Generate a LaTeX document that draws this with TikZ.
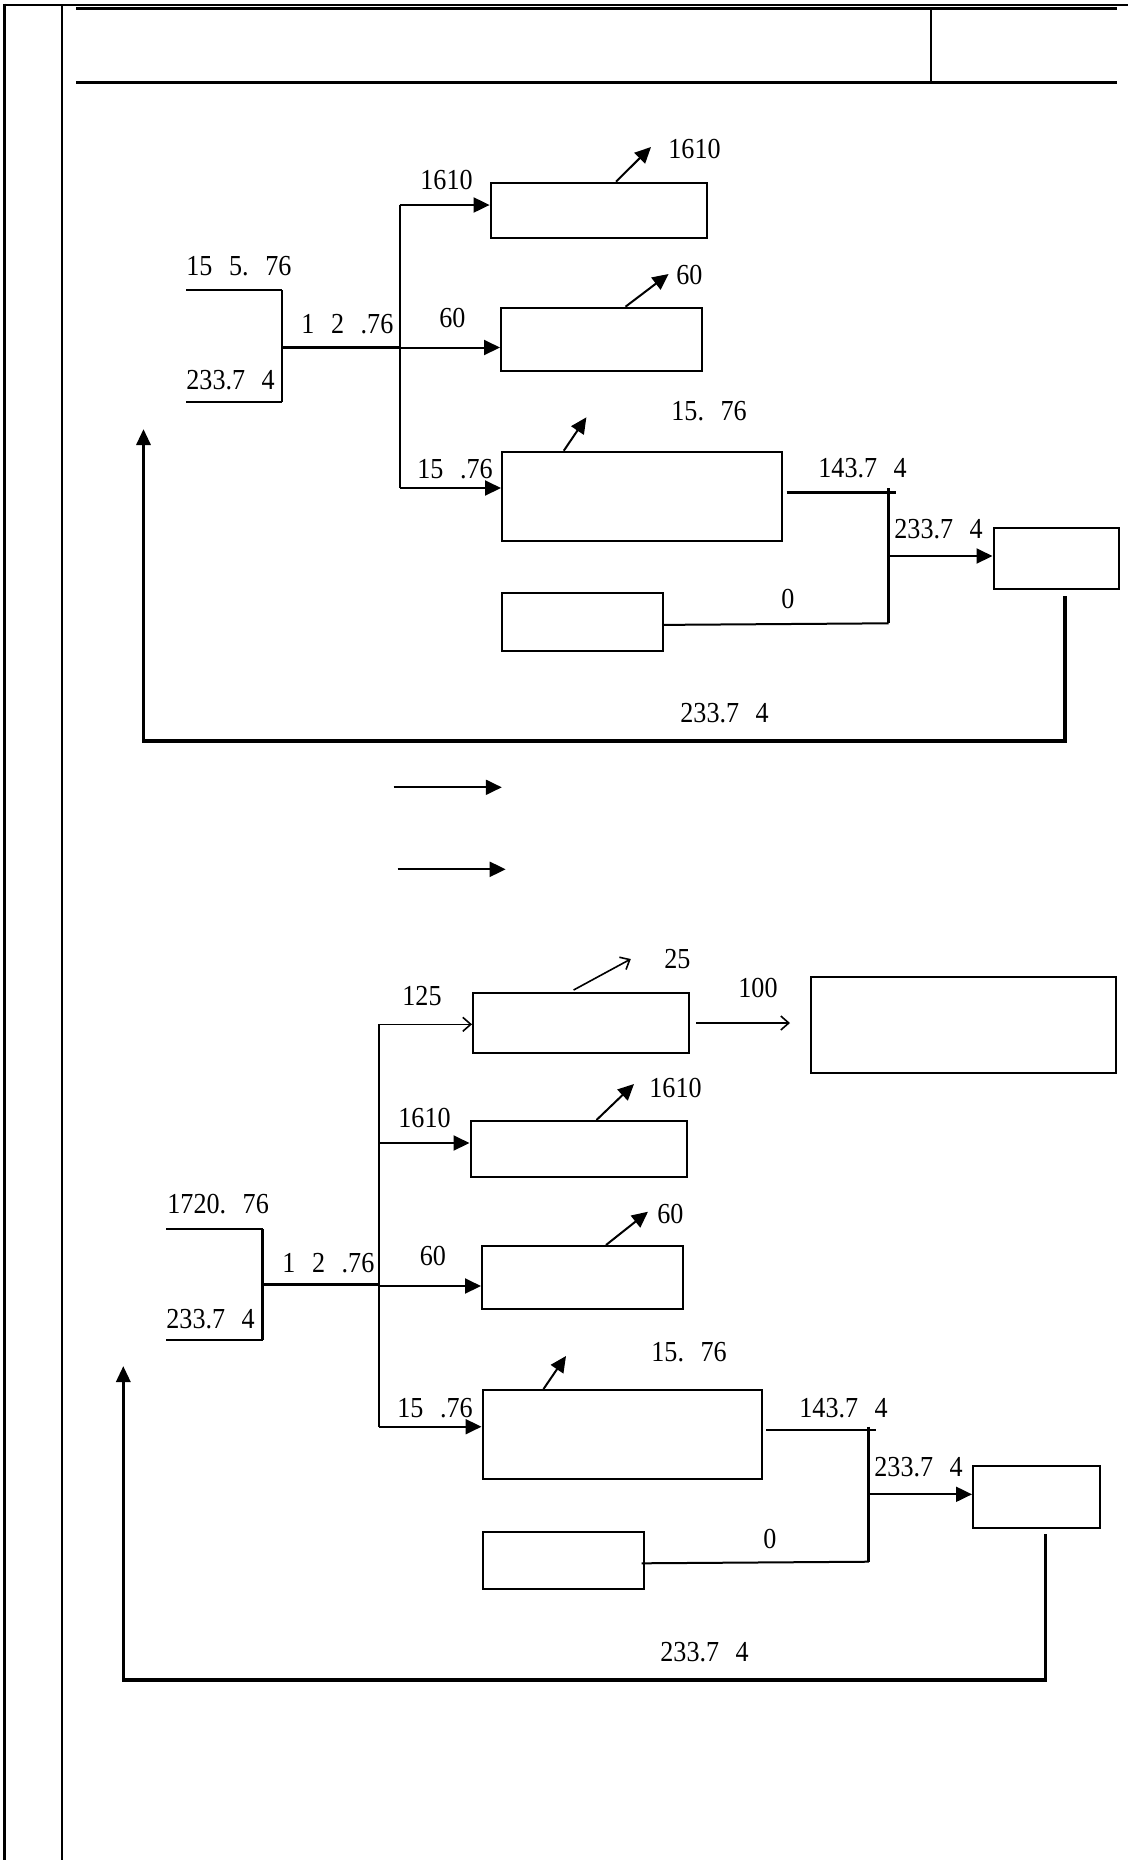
\documentclass[tikz,border=0pt]{standalone}
\usepackage{fontspec}
\setmainfont{Liberation Serif}[FakeStretch=0.9]
\usetikzlibrary{arrows.meta,fit}
\newcommand\gp{\hspace{8.3pt}}
\begin{document}
\begin{tikzpicture}[x=0.5pt,y=-0.5pt,
  box/.style={draw,line width=1pt,inner sep=0pt},
  lbl/.style={anchor=base west,inner sep=0pt,font=\fontsize{14.5pt}{16pt}\selectfont},
  thinln/.style={line width=1pt},
  heavy/.style={line width=1.4pt},
  arr/.style={line width=1pt,-{Triangle[length=8pt,width=7.5pt]}},
  retarr/.style={line width=1.6pt,-{Triangle[length=8pt,width=7pt]}},
  barb/.style={line width=0.8pt,-{Straight Barb[length=4pt,width=7pt]}}]
\useasboundingbox (0,0) rectangle (1129,1860);
% ---------- frame ----------
\draw[line width=1.5pt] (4.5,3.5) -- (4.5,1860);
\draw[line width=1.3pt] (3,5) -- (1128,5);
\draw[line width=0.8pt] (61.7,5) -- (61.7,1860);
\draw[line width=1.75pt] (76,8.5) -- (1116.7,8.5);
\draw[line width=0.75pt] (931,9) -- (931,81);
\draw[line width=1.75pt] (76,82.3) -- (1116.7,82.3);
% ================= diagram 1 =================
\node[box,fit={(490.6,182.7)(706.8,238.3)}] (b1) {};
\node[box,fit={(501,307.7)(702,370.7)}] (b2) {};
\node[box,fit={(502,451.7)(782,541)}] (b3) {};
\node[box,fit={(993.5,527.7)(1119,589)}] (b4) {};
\node[box,fit={(502,592.7)(663,650.7)}] (b5) {};
% input bracket
\coordinate (i1a) at (186,290);
\coordinate (i1b) at (282,290);
\coordinate (i1c) at (282,402);
\coordinate (i1d) at (186,402);
\draw[thinln] (i1a) -- (i1b);
\draw[heavy] (i1b) -- (i1c);
\draw[thinln] (i1c) -- (i1d);
\coordinate (m1) at (282,347.5);
\coordinate (t1top) at (399.5,205);
\coordinate (t1m) at (399.5,347.5);
\coordinate (t1bot) at (399.5,488);
\draw[heavy] (m1) -- (t1m);
\draw[thinln] (t1top) -- (t1bot);
\draw[arr] (t1top) -- (t1top -| b1.west);
\draw[arr] (t1m) -- (t1m -| b2.west);
\draw[arr] (t1bot) -- (t1bot -| b3.west);
% up arrows
\coordinate (u1) at (651,147);
\coordinate (u2) at (668.6,274);
\coordinate (u3) at (586.4,417.3);
\draw[arr] ([xshift=63.2pt]b1.north west) -- (u1);
\draw[arr] ([xshift=62.75pt]b2.north west) -- (u2);
\draw[arr] ([xshift=31.4pt]b3.north west) -- (u3);
% collector
\coordinate (k1) at (896,492.3);
\draw[heavy,shorten <=1.8pt] (b3.east |- k1) -- (k1);
\coordinate (v1t) at (888.7,488);
\coordinate (v1m) at (888.7,556);
\coordinate (v1b) at (888.7,623.3);
\draw[heavy] (v1t) -- (v1b);
\draw[arr] (v1m) -- (v1m -| b4.west);
\draw[thinln] ([xshift=-1pt,yshift=-1.6pt]b5.east) -- (v1b);
% return
\coordinate (r1s) at ([yshift=-3pt]b4.south);
\coordinate (r1a) at (1065,741);
\coordinate (r1b) at (143.5,741);
\coordinate (r1tip) at (143.5,429);
\draw[retarr] (r1s -| r1a) -- (r1a) -- (r1b) -- (r1tip);
% labels
\node[lbl] (l1) at (186,275) {15\gp5.\gp76};
\node[lbl] (l2) at (186,389) {233.7\gp4};
\node[lbl] (l3) at (301,333) {1\gp2\gp.76};
\node[lbl] (l4) at (420,189) {1610};
\node[lbl] (l5) at (668,158) {1610};
\node[lbl] (l6) at (439,327) {60};
\node[lbl] (l7) at (676,284) {60};
\node[lbl] (l8) at (671,420) {15.\gp76};
\node[lbl] (l9) at (417,478) {15\gp.76};
\node[lbl] (l10) at (818,477) {143.7\gp4};
\node[lbl] (l11) at (894,538) {233.7\gp4};
\node[lbl] (l12) at (781,608) {0};
\node[lbl] (l13) at (680,722) {233.7\gp4};
% legend arrows
\coordinate (la1) at (393.5,787.3);
\coordinate (la2) at (501.8,787.3);
\coordinate (lb1) at (397.7,869.3);
\coordinate (lb2) at (505.7,869.3);
\draw[arr] (la1) -- (la2);
\draw[arr] (lb1) -- (lb2);
% ================= diagram 2 =================
\node[box,fit={(473,993)(689,1053)}] (c6) {};
\node[box,fit={(811,976.7)(1115.7,1072.7)}] (c9) {};
\node[box,fit={(470.5,1121)(686.7,1176.7)}] (c7) {};
\node[box,fit={(482,1246)(682.8,1309.3)}] (c8) {};
\node[box,fit={(482.5,1390)(761.8,1479.3)}] (c10) {};
\node[box,fit={(973,1465.7)(1099.6,1527.7)}] (c11) {};
\node[box,fit={(482.5,1531.7)(643.6,1589.3)}] (c12) {};
% input bracket
\coordinate (i2a) at (166,1229);
\coordinate (i2b) at (262.6,1229);
\coordinate (i2c) at (262.6,1340);
\coordinate (i2d) at (166,1340);
\draw[thinln] (i2a) -- (i2b);
\draw[heavy] (i2b) -- (i2c);
\draw[thinln] (i2c) -- (i2d);
\coordinate (m2) at (262.6,1284.3);
\coordinate (t2a) at (379.4,1024.3);
\coordinate (t2b) at (379.4,1143);
\coordinate (t2m) at (379.4,1284.3);
\coordinate (t2c) at (379.4,1286);
\coordinate (t2d) at (379.4,1426.7);
\draw[heavy] (m2) -- (t2m);
\draw[thinln] (t2a) -- (t2d);
\draw[barb] (t2a) -- (t2a -| c6.west);
\draw[arr] (t2b) -- (t2b -| c7.west);
\draw[arr] (t2c) -- (t2c -| c8.west);
\draw[arr] (t2d) -- (t2d -| c10.west);
% up arrows
\coordinate (u6) at (630.8,959);
\coordinate (u7) at (634,1084);
\coordinate (u8) at (648,1211.7);
\coordinate (u10) at (566,1356);
\draw[barb] ([xshift=50.8pt,yshift=1pt]c6.north west) -- (u6);
\draw[arr] ([xshift=63.5pt]c7.north west) -- (u7);
\draw[arr] ([xshift=62.5pt]c8.north west) -- (u8);
\draw[arr] ([xshift=31pt]c10.north west) -- (u10);
\draw[barb,shorten <=3pt,shorten >=10pt] (c6.east) -- (c6.east -| c9.west);
% collector
\coordinate (k2) at (875.7,1430);
\draw[heavy,shorten <=1.6pt] (c10.east |- k2) -- (k2);
\coordinate (v2t) at (868.8,1426.7);
\coordinate (v2m) at (868.8,1494.3);
\coordinate (v2b) at (868.8,1561.7);
\draw[heavy] (v2t) -- (v2b);
\draw[arr] (v2m) -- (v2m -| c11.west);
\draw[thinln] ([xshift=-1.5pt,yshift=-1.4pt]c12.east) -- (v2b);
% return
\coordinate (r2s) at ([yshift=-2.7pt]c11.south);
\coordinate (r2a) at (1045.5,1680);
\coordinate (r2b) at (123.3,1680);
\coordinate (r2tip) at (123.3,1366);
\draw[retarr] (r2s -| r2a) -- (r2a) -- (r2b) -- (r2tip);
% labels
\node[lbl] (n1) at (664,968) {25};
\node[lbl] (n2) at (402,1005) {125};
\node[lbl] (n3) at (738,997) {100};
\node[lbl] (n4) at (398,1127) {1610};
\node[lbl] (n5) at (649,1097) {1610};
\node[lbl] (n6) at (167,1213) {1720.\gp76};
\node[lbl] (n7) at (166,1328) {233.7\gp4};
\node[lbl] (n8) at (282,1272) {1\gp2\gp.76};
\node[lbl] (n9) at (419.5,1265) {60};
\node[lbl] (n10) at (657,1223) {60};
\node[lbl] (n11) at (651,1361) {15.\gp76};
\node[lbl] (n12) at (397,1417) {15\gp.76};
\node[lbl] (n13) at (799,1417) {143.7\gp4};
\node[lbl] (n14) at (874,1476) {233.7\gp4};
\node[lbl] (n15) at (763,1548) {0};
\node[lbl] (n16) at (660,1661) {233.7\gp4};
\end{tikzpicture}
\end{document}
